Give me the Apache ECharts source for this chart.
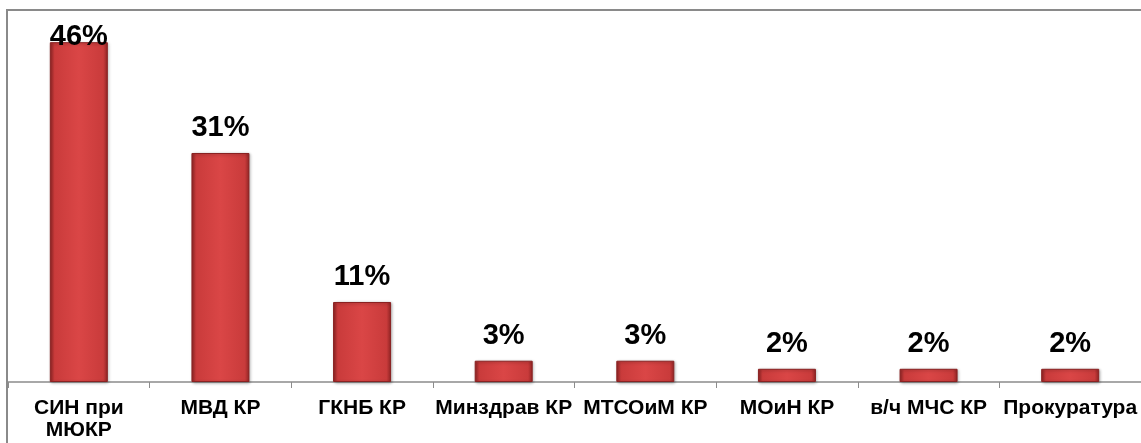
<!DOCTYPE html>
<html>
<head>
<meta charset="utf-8">
<script src="https://cdn.jsdelivr.net/npm/echarts@6/dist/echarts.min.js"></script>
<style>
  html, body { margin: 0; padding: 0; background: #fff; }
  #chart { width: 1141px; height: 443px; }
</style>
</head>
<body>
<div id="chart"></div>
<script>
const categories = ['СИН при\nМЮКР', 'МВД КР', 'ГКНБ КР', 'Минздрав КР', 'МТСОиМ КР', 'МОиН КР', 'в/ч МЧС КР', 'Прокуратура'];
const shares = [46.3, 31.2, 10.9, 2.9, 2.9, 1.8, 1.8, 1.8];

const barColor = new echarts.graphic.LinearGradient(0, 0, 1, 0, [
  { offset: 0, color: '#932525' },
  { offset: 0.08, color: '#c93b3b' },
  { offset: 0.5, color: '#da4646' },
  { offset: 0.92, color: '#c93b3b' },
  { offset: 1, color: '#932525' }
]);

const chart = echarts.init(document.getElementById('chart'));

chart.setOption({
  animation: false,
  grid: {
    left: 8,
    top: 15,
    width: 1136,
    bottom: 61,
    containLabel: false
  },
  graphic: [
    {
      type: 'rect',
      shape: { x: 7, y: 10, width: 1200, height: 500 },
      style: { fill: 'none', stroke: '#8a8a8a', lineWidth: 2 },
      z: 100
    }
  ],
  xAxis: {
    type: 'category',
    data: categories,
    axisLine: { lineStyle: { color: '#8c8c8c', width: 1.5 } },
    axisTick: { show: true, length: 6, lineStyle: { color: '#8c8c8c' } },
    axisLabel: {
      interval: 0,
      hideOverlap: false,
      margin: 15,
      color: '#000',
      fontFamily: 'Liberation Sans, Arial, sans-serif',
      fontWeight: 'bold',
      fontSize: 21,
      lineHeight: 22
    }
  },
  yAxis: {
    type: 'value',
    min: 0,
    max: 50,
    show: false,
    splitLine: { show: false }
  },
  series: [
    {
      type: 'bar',
      barWidth: 58,
      data: shares.map((v, i) => ({
        value: v,
        label: i === 0 ? { position: 'insideTop', offset: [0, -30] } : undefined
      })),
      itemStyle: {
        color: barColor,
        borderColor: '#8a2222',
        borderWidth: 1,
        shadowColor: 'rgba(0,0,0,0.3)',
        shadowBlur: 3,
        shadowOffsetX: 1,
        shadowOffsetY: 1
      },
      label: {
        show: true,
        position: 'top',
        distance: 10,
        formatter: p => Math.round(p.value) + '%',
        color: '#000',
        fontFamily: 'Liberation Sans, Arial, sans-serif',
        fontWeight: 'bold',
        fontSize: 29
      }
    }
  ]
});
</script>
</body>
</html>
